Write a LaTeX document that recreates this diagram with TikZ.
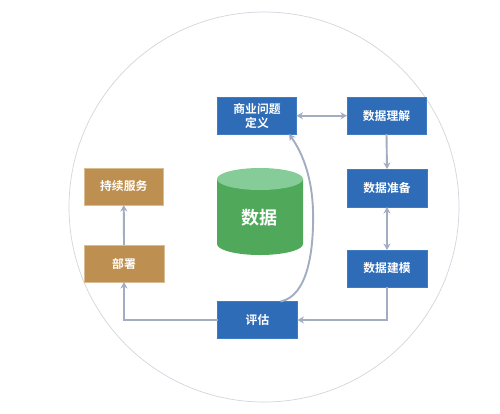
\documentclass[tikz,border=0pt]{standalone}
\usepackage{fontspec}
\setmainfont{Noto Sans CJK SC}[BoldFont={Noto Sans CJK SC Bold}]
\usetikzlibrary{arrows.meta}
\definecolor{bluebox}{HTML}{2E6CB8}
\definecolor{blueedge}{HTML}{3F7CC4}
\definecolor{tanbox}{HTML}{BD8F50}
\definecolor{tanedge}{HTML}{D9BC90}
\definecolor{link}{HTML}{A2ADC1}
\definecolor{ring}{HTML}{D3D6DE}
\definecolor{cylbody}{HTML}{50A95B}
\definecolor{cyltop}{HTML}{85CC98}
\tikzset{
  boxbase/.style={anchor=north west,inner sep=0pt,outer sep=0pt,align=center,text=white,font=\fontsize{11.8pt}{13.5pt}\selectfont\bfseries},
  bluenode/.style={boxbase,fill=bluebox,draw=blueedge,line width=.6pt},
  tannode/.style={boxbase,fill=tanbox,draw=tanedge,line width=.6pt},
  linkline/.style={draw=link,line width=1.9pt,-{Stealth[length=6.5pt,width=7pt]}},
  linkboth/.style={draw=link,line width=1.9pt,{Stealth[length=6.5pt,width=7pt]}-{Stealth[length=6.5pt,width=7pt]}},
  x=1pt,y=-1pt
}
\begin{document}
\begin{tikzpicture}
\useasboundingbox (0,0) rectangle (500,413);
\fill[white] (0,0) rectangle (500,413);
\node[circle,draw=ring,line width=.7pt,minimum size=390pt,inner sep=0pt] (ring) at (264,207) {};
% cylinder
\fill[cylbody] (217,179) -- (217,244) arc[start angle=180,end angle=0,x radius=43,y radius=11] -- (303,179) -- cycle;
\fill[cyltop] (260,179) ellipse[x radius=43,y radius=11];
\node[text=white,font=\fontsize{18pt}{20pt}\selectfont\bfseries,inner sep=0pt] (data) at (259,218) {数据};
% boxes
\node[bluenode,minimum width=79pt,minimum height=36.5pt] (biz) at (217.5,97.5) {商业问题\\定义};
\node[bluenode,minimum width=79pt,minimum height=36.5pt] (und) at (347,97.5) {数据理解};
\node[bluenode,minimum width=80pt,minimum height=38pt] (pre) at (347,169) {数据准备};
\node[bluenode,minimum width=80pt,minimum height=37pt] (mod) at (347,250) {数据建模};
\node[bluenode,minimum width=80pt,minimum height=37pt] (eva) at (217.5,301.5) {评估};
\node[tannode,minimum width=79.5pt,minimum height=37pt] (svc) at (84,168) {持续服务};
\node[tannode,minimum width=80pt,minimum height=37pt] (dep) at (84,245) {部署};
% connectors
\draw[linkboth] (biz.east) -- (und.west);
\draw[linkline] (und.south) -- (pre.north);
\draw[linkboth] (pre.south) -- (mod.north);
\draw[linkline] (mod.south) |- (eva.east);
\draw[linkline] (eva.west) -| (dep.south);
\draw[linkline] (dep.north) -- (svc.south);
\draw[linkline] ([xshift=23pt]eva.north) .. controls (308,296) and (314,250) .. (313,210) .. controls (312,180) and (304,155) .. ([xshift=32pt]biz.south);
\end{tikzpicture}
\end{document}
